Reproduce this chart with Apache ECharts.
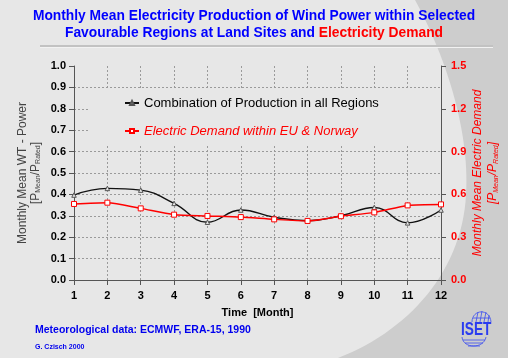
<!DOCTYPE html>
<html>
<head>
<meta charset="utf-8">
<script src="https://cdn.jsdelivr.net/npm/echarts@6/dist/echarts.min.js"></script>
<style>html,body{margin:0;padding:0;background:#e7e7e7}#c{width:508px;height:358px}</style>
</head>
<body>
<div id="c"></div>
<script>
const months = ['1','2','3','4','5','6','7','8','9','10','11','12'];
const production = [0.397, 0.428, 0.420, 0.358, 0.270, 0.327, 0.293, 0.277, 0.300, 0.339, 0.267, 0.327];
const demand = [0.533, 0.542, 0.502, 0.458, 0.449, 0.441, 0.425, 0.414, 0.447, 0.474, 0.523, 0.530];
const leftTicks = {min: 0, max: 1, interval: 0.1};
const rightTicks = {min: 0, max: 1.5, interval: 0.3};
const seriesNames = ['Combination of Production in all Regions', 'Electric Demand within EU & Norway'];

const FF = '"Liberation Sans", Arial, sans-serif';

// decorative background shape (sampled cubic beziers)
function bez(p0, p1, p2, p3, n) {
  const pts = [];
  for (let i = 0; i <= n; i++) {
    const t = i / n, u = 1 - t;
    pts.push([
      u*u*u*p0[0] + 3*u*u*t*p1[0] + 3*u*t*t*p2[0] + t*t*t*p3[0],
      u*u*u*p0[1] + 3*u*u*t*p1[1] + 3*u*t*t*p2[1] + t*t*t*p3[1]
    ]);
  }
  return pts;
}
const shapePts = bez([415,0],[445,55],[470,130],[466,195],30)
  .concat(bez([466,195],[462,270],[410,330],[338,358],30).slice(1))
  .concat([[508,358],[508,0]]);

const chart = echarts.init(document.getElementById('c'), null, {renderer: 'canvas'});
const logoStroke = {fill: 'none', stroke: '#3a4cf0', lineWidth: 0.8};
chart.setOption({
  backgroundColor: '#e7e7e7',
  animation: false,
  textStyle: {fontFamily: FF},
  graphic: [
    {type: 'polygon', z: -10, silent: true, shape: {points: shapePts}, style: {fill: '#cdcdcd'}},
    {type: 'rect', z: 1, silent: true, shape: {x: 90, y: 89, width: 350, height: 57}, style: {fill: '#e7e7e7'}},
    {type: 'line', z: -5, shape: {x1: 40, y1: 46, x2: 493, y2: 46}, style: {stroke: '#c2c2c2', lineWidth: 2}},
    {type: 'line', z: -5, shape: {x1: 40, y1: 47.5, x2: 493, y2: 47.5}, style: {stroke: '#f2f2f2', lineWidth: 1}},
    {type: 'text', x: 254, y: 8,
     style: {
       text: '{b|Monthly Mean Electricity Production of Wind Power within Selected}\n{b|Favourable Regions at Land Sites and }{r|Electricity Demand}',
       align: 'center', textAlign: 'center',
       rich: {
         b: {fontFamily: FF, fontSize: 13.8, fontWeight: 'bold', fill: '#0000ff', color: '#0000ff', lineHeight: 17},
         r: {fontFamily: FF, fontSize: 13.8, fontWeight: 'bold', fill: '#ff0000', color: '#ff0000', lineHeight: 17}
       }
     }},
    {type: 'text', x: 35, y: 325,
     style: {text: 'Meteorological data: ECMWF, ERA-15, 1990', font: 'bold 10.5px ' + FF, fill: '#0000ee'}},
    {type: 'text', x: 35, y: 344,
     style: {text: 'G. Czisch 2000', font: 'bold 7px ' + FF, fill: '#0000ee'}},
    {type: 'text', x: 461, y: 320, scaleX: 0.72,
     style: {text: 'ISET', font: 'bold 19px ' + FF, fill: '#2a3cf0'}},
    {type: 'bezierCurve', silent: true, shape: {x1: 472, y1: 322, cpx1: 472, cpy1: 309, cpx2: 490, cpy2: 308, x2: 491, y2: 322}, style: logoStroke},
    {type: 'line', silent: true, shape: {x1: 476, y1: 322, x2: 478, y2: 312}, style: logoStroke},
    {type: 'line', silent: true, shape: {x1: 480, y1: 322, x2: 482, y2: 311}, style: logoStroke},
    {type: 'line', silent: true, shape: {x1: 484, y1: 322, x2: 486, y2: 312}, style: logoStroke},
    {type: 'line', silent: true, shape: {x1: 488, y1: 322, x2: 489, y2: 315}, style: logoStroke},
    {type: 'line', silent: true, shape: {x1: 473, y1: 318, x2: 490, y2: 318}, style: logoStroke},
    {type: 'bezierCurve', silent: true, shape: {x1: 462, y1: 337, cpx1: 463, cpy1: 349, cpx2: 484, cpy2: 349, x2: 486, y2: 337}, style: logoStroke},
    {type: 'line', silent: true, shape: {x1: 463, y1: 340, x2: 485, y2: 340}, style: logoStroke},
    {type: 'line', silent: true, shape: {x1: 465, y1: 343, x2: 483, y2: 343}, style: logoStroke},
    {type: 'line', silent: true, shape: {x1: 468, y1: 346, x2: 480, y2: 346}, style: logoStroke}
  ],
  grid: {left: 74, right: 67, top: 66, bottom: 78, containLabel: false, outerBoundsMode: 'none'},
  legend: {
    orient: 'vertical',
    left: 124, top: 96,
    padding: 0,
    itemWidth: 14, itemHeight: 5, itemGap: 14,
    data: [
      {name: seriesNames[0], textStyle: {color: '#000', fontSize: 13, fontFamily: FF, lineHeight: 14}},
      {name: seriesNames[1], textStyle: {color: '#ff0000', fontSize: 13, fontStyle: 'italic', fontFamily: FF, lineHeight: 14}}
    ]
  },
  xAxis: {
    type: 'category', data: months, boundaryGap: false,
    name: 'Time  [Month]', nameLocation: 'middle', nameGap: 27, nameMoveOverlap: false,
    nameTextStyle: {fontSize: 11, fontWeight: 'bold', color: '#000', fontFamily: FF},
    axisLine: {lineStyle: {color: '#555', width: 1}},
    axisTick: {length: 5, lineStyle: {color: '#555'}},
    axisLabel: {fontSize: 11, fontWeight: 'bold', color: '#000', margin: 10, fontFamily: FF},
    splitLine: {show: true, lineStyle: {type: [2, 2], color: '#9a9a9a', width: 1}}
  },
  yAxis: [
    {
      type: 'value', position: 'left', min: leftTicks.min, max: leftTicks.max, interval: leftTicks.interval,
      name: '{a|Monthly Mean WT - Power}\n{a|[P}{s|Mean}{a|/P}{s|Rated}{a|]}',
      nameLocation: 'middle', nameGap: 32, nameMoveOverlap: false,
      nameTextStyle: {
        rich: {
          a: {fontSize: 12, color: '#444', fontFamily: FF, lineHeight: 13},
          s: {fontSize: 7, color: '#444', fontFamily: FF, lineHeight: 7, verticalAlign: 'bottom'}
        }
      },
      axisLine: {show: true, lineStyle: {color: '#555', width: 1}},
      axisTick: {show: true, length: 5, lineStyle: {color: '#555'}},
      axisLabel: {fontSize: 11, fontWeight: 'bold', color: '#000', margin: 8, fontFamily: FF,
                  formatter: v => v.toFixed(1)},
      splitLine: {show: true, showMaxLine: false, lineStyle: {type: [2, 2], color: '#9a9a9a', width: 1}}
    },
    {
      type: 'value', position: 'right', min: rightTicks.min, max: rightTicks.max, interval: rightTicks.interval,
      name: '{a|Monthly Mean Electric Demand}\n{a|[P}{s|Mean}{a|/P}{s|Rated}{a|]}',
      nameLocation: 'middle', nameGap: 29, nameMoveOverlap: false,
      nameTextStyle: {
        rich: {
          a: {fontSize: 12, color: '#ff0000', fontStyle: 'italic', fontFamily: FF, lineHeight: 15},
          s: {fontSize: 7, color: '#ff0000', fontStyle: 'italic', fontFamily: FF, lineHeight: 8, verticalAlign: 'bottom'}
        }
      },
      axisLine: {show: true, lineStyle: {color: '#555', width: 1}},
      axisTick: {show: true, length: 5, lineStyle: {color: '#555'}},
      axisLabel: {fontSize: 11, fontWeight: 'bold', color: '#ff0000', margin: 10, fontFamily: FF,
                  formatter: v => v.toFixed(1)},
      splitLine: {show: false}
    }
  ],
  series: [
    {
      name: seriesNames[0], type: 'line', yAxisIndex: 0, data: production, smooth: 0.45,
      symbol: 'triangle', symbolSize: 4.5,
      lineStyle: {color: '#111', width: 1.4},
      itemStyle: {color: '#e7e7e7', borderColor: '#555', borderWidth: 1}
    },
    {
      name: seriesNames[1], type: 'line', yAxisIndex: 1, data: demand, smooth: 0.25,
      symbol: 'rect', symbolSize: 5,
      lineStyle: {color: '#ff0000', width: 1.5},
      itemStyle: {color: '#ffffff', borderColor: '#ff0000', borderWidth: 1}
    }
  ]
});
</script>
</body>
</html>
